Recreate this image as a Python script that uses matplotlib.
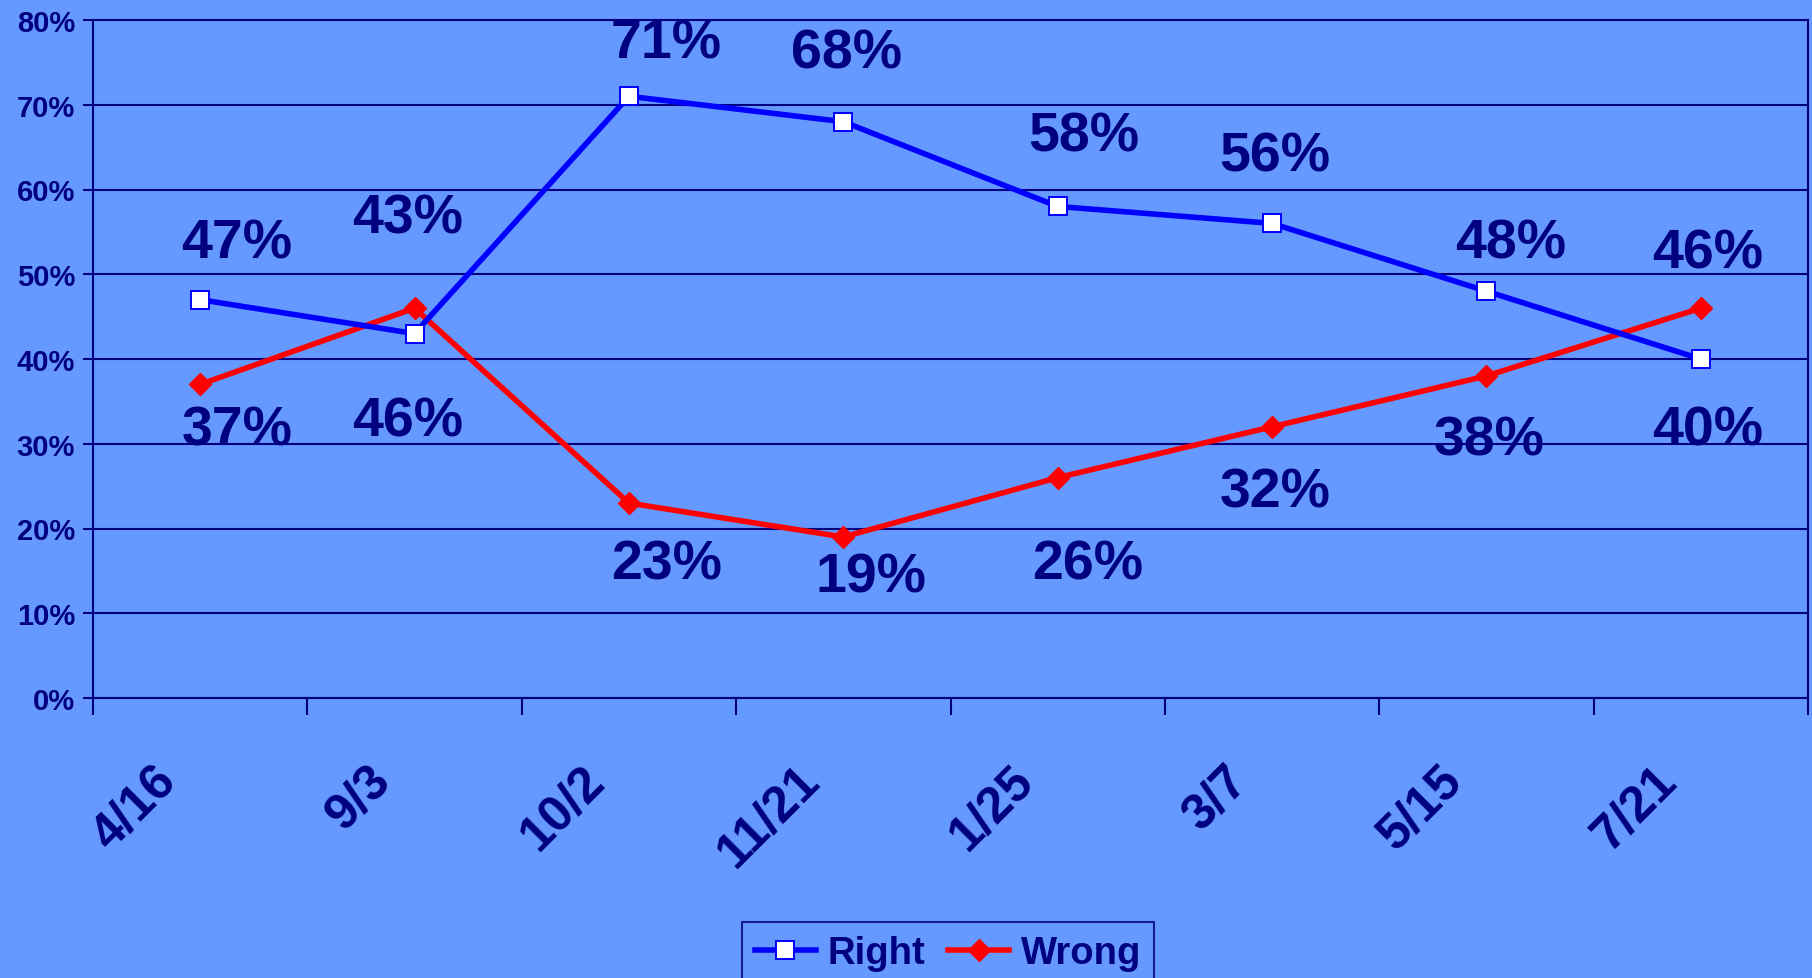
import matplotlib
matplotlib.use("Agg")
import matplotlib.pyplot as plt
import matplotlib.transforms as mtransforms

# ---- data ----
categories = ["4/16", "9/3", "10/2", "11/21", "1/25", "3/7", "5/15", "7/21"]
right_vals = [47, 43, 71, 68, 58, 56, 48, 40]
wrong_vals = [37, 46, 23, 19, 26, 32, 38, 46]
y_ticks = [0, 10, 20, 30, 40, 50, 60, 70, 80]

# ---- style ----
BG = "#6699FF"
NAVY = "#000080"
FONT = "Liberation Sans"
# label offsets in pixels (dx, dy) relative to each marker
right_offsets = [(37, 56), (-7, 115), (37, 53), (3, 68), (26, 70), (3, 67), (24, 48), (7, -72)]
wrong_offsets = [(37, -46), (-7, -113), (38, -61), (28, -41), (30, -87), (3, -66), (3, -65), (7, 55)]

plt.rcParams['font.family'] = [FONT, 'DejaVu Sans']

W, H = 1812, 979
fig = plt.figure(figsize=(W / 100, H / 100), dpi=100, facecolor=BG)
ax = fig.add_axes([93 / W, 1 - 699 / H, (1808 - 93) / W, (699 - 21) / H])
ax.set_facecolor(BG)

x = list(range(len(categories)))
ax.plot(x, right_vals, color="#0000FF", lw=4.0, marker="s", ms=13.5,
        mfc="white", mec="#0000FF", mew=1.4, zorder=4, label="Right")
ax.plot(x, wrong_vals, color="#FF0000", lw=4.0, marker="D", ms=11.5,
        mfc="#FF0000", mec="#FF0000", zorder=3, label="Wrong")

for xi, v, (dx, dy) in zip(x, right_vals, right_offsets):
    ax.annotate(f"{v}%", (xi, v), xytext=(dx, dy), textcoords="offset pixels",
                ha="center", va="center", fontsize=40, fontweight="bold",
                color=NAVY, zorder=5)
for xi, v, (dx, dy) in zip(x, wrong_vals, wrong_offsets):
    ax.annotate(f"{v}%", (xi, v), xytext=(dx, dy), textcoords="offset pixels",
                ha="center", va="center", fontsize=40, fontweight="bold",
                color=NAVY, zorder=5)

ax.set_xlim(-0.5, len(categories) - 0.5)
ax.set_ylim(0, 80)
ax.set_yticks(y_ticks)
ax.set_yticklabels([f"{t}%" for t in y_ticks], fontsize=21, fontweight="bold", color=NAVY)
ax.yaxis.grid(True, color=NAVY, lw=1.5)
ax.set_axisbelow(True)

# x ticks at category boundaries, labels at centers
ax.set_xticks([i - 0.5 for i in range(len(categories) + 1)])
ax.set_xticklabels([])
ax.set_xticks(x, minor=True)
ax.set_xticklabels(categories, minor=True, rotation=45, ha="right", va="top",
                   rotation_mode="anchor", fontsize=36, fontweight="bold", color=NAVY)
ax.tick_params(axis="x", which="major", length=12, width=1.5, color=NAVY, direction="out")
ax.tick_params(axis="x", which="minor", length=0, pad=42)
ax.tick_params(axis="y", length=7, width=1.5, color=NAVY, pad=6)
offset = mtransforms.ScaledTranslation(-0.48, 0, fig.dpi_scale_trans)
for lab in ax.xaxis.get_minorticklabels():
    lab.set_transform(lab.get_transform() + offset)

for side in ["left", "bottom", "right", "top"]:
    ax.spines[side].set_color(NAVY)
    ax.spines[side].set_linewidth(1.5)

leg = fig.legend(loc="upper center", bbox_to_anchor=(948 / W, 1 - 923 / H),
                 ncol=2, frameon=True, fancybox=False, facecolor=BG, edgecolor=NAVY,
                 prop={"family": FONT, "weight": "bold", "size": 27.5},
                 handlelength=1.6, handletextpad=0.3, columnspacing=0.6,
                 borderpad=0.35, borderaxespad=0)
leg.get_frame().set_linewidth(1.5)
for t in leg.get_texts():
    t.set_color(NAVY)

fig.savefig("out.png", dpi=100, facecolor=BG)
